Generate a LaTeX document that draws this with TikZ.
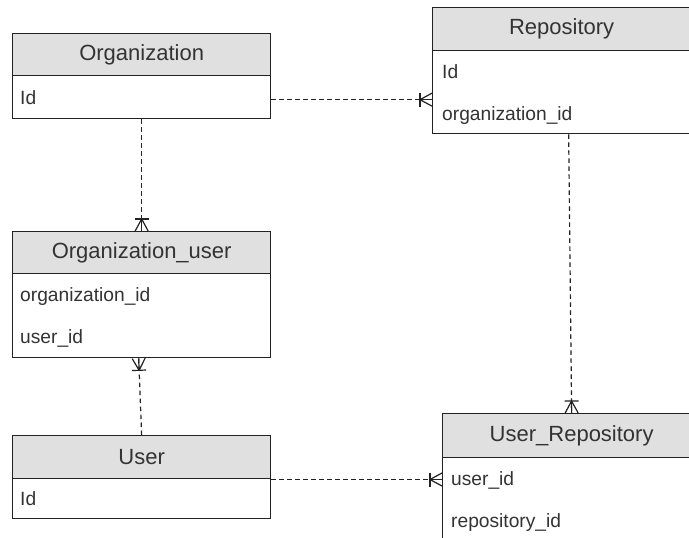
\documentclass[tikz,border=0pt]{standalone}
\usepackage{fontspec}
\setmainfont{Liberation Sans}
\usetikzlibrary{calc}

\definecolor{hdrgray}{HTML}{E0E0E0}
\definecolor{linec}{HTML}{222222}
\definecolor{txtc}{HTML}{333333}

\tikzset{
  hdr/.style={draw=linec, fill=hdrgray, line width=1.3pt, anchor=north west,
    minimum width=258pt, inner sep=0pt, text=txtc,
    font=\fontsize{22}{26}\selectfont},
  bodybox/.style={draw=linec, fill=white, line width=1.3pt, anchor=north west,
    minimum width=258pt, inner sep=0pt},
  field/.style={anchor=base west, inner sep=0pt, text=txtc,
    font=\fontsize{19.2}{23}\selectfont},
  rel/.style={draw=linec, line width=1.2pt, dash pattern=on 4.5pt off 3.5pt},
  foot/.style={draw=linec, line width=1.2pt}
}

% crow's foot with a bar: #1 = end on the entity border, #2 = point back along the line
\newcommand{\crowfoot}[2]{%
  \coordinate (cf-apex) at ($(#1)!12pt!(#2)$);
  \draw[foot] (cf-apex) -- ($(#1)!6.5pt!90:(#2)$);
  \draw[foot] (cf-apex) -- (#1);
  \draw[foot] (cf-apex) -- ($(#1)!6.5pt!-90:(#2)$);
  \draw[foot] ($(cf-apex)!7pt!90:(#1)$) -- ($(cf-apex)!7pt!-90:(#1)$);
}

\begin{document}
\begin{tikzpicture}[x=1pt, y=-1pt]
\clip (0,0) rectangle (689,538);
\fill[white] (0,0) rectangle (689,538);

% Organization
\node[hdr, minimum height=42pt] (orghdr) at (12,33) {Organization};
\node[bodybox, minimum height=43pt] (orgbody) at (12,75) {};
\node[field] (orgid) at (20,104) {Id};

% Repository
\node[hdr, minimum height=43pt] (repohdr) at (432,7) {Repository};
\node[bodybox, minimum height=83pt] (repobody) at (432,50) {};
\node[field] (repoid) at (442,78) {Id};
\node[field] (repoorg) at (442,120) {organization\_id};

% Organization_user
\node[hdr, minimum height=42pt] (ouhdr) at (12,231) {Organization\_user};
\node[bodybox, minimum height=84pt] (oubody) at (12,273) {};
\node[field] (ouorg) at (20,301) {organization\_id};
\node[field] (ouuser) at (20,343) {user\_id};

% User
\node[hdr, minimum height=43pt] (userhdr) at (12,435) {User};
\node[bodybox, minimum height=40pt] (userbody) at (12,478) {};
\node[field] (userid) at (20,505) {Id};

% User_Repository
\node[hdr, minimum height=44pt] (urhdr) at (442,413) {User\_Repository};
\node[bodybox, minimum height=110pt] (urbody) at (442,457) {};
\node[field] (uruser) at (451,485) {user\_id};
\node[field] (urrepo) at (451,527) {repository\_id};

% connector ends
\coordinate (r1a) at ([yshift=-2.5pt]orgbody.east);
\coordinate (r1b) at (r1a -| repobody.west);
\coordinate (r3b) at ([xshift=-3pt]oubody.south);
\coordinate (r4a) at ([xshift=7pt]repobody.south);
\coordinate (r5a) at ([yshift=-1.5pt]userbody.north east);
\coordinate (r5b) at (r5a -| urbody.west);

% relationships
\draw[rel] (r1a) -- (r1b);
\crowfoot{r1b}{r1a}

\draw[rel] (orgbody.south) -- (ouhdr.north);
\crowfoot{ouhdr.north}{orgbody.south}

\draw[rel] (userhdr.north) -- (r3b);
\crowfoot{r3b}{userhdr.north}

\draw[rel] (r4a) -- (urhdr.north);
\crowfoot{urhdr.north}{r4a}

\draw[rel] (r5a) -- (r5b);
\crowfoot{r5b}{r5a}
\end{tikzpicture}
\end{document}
